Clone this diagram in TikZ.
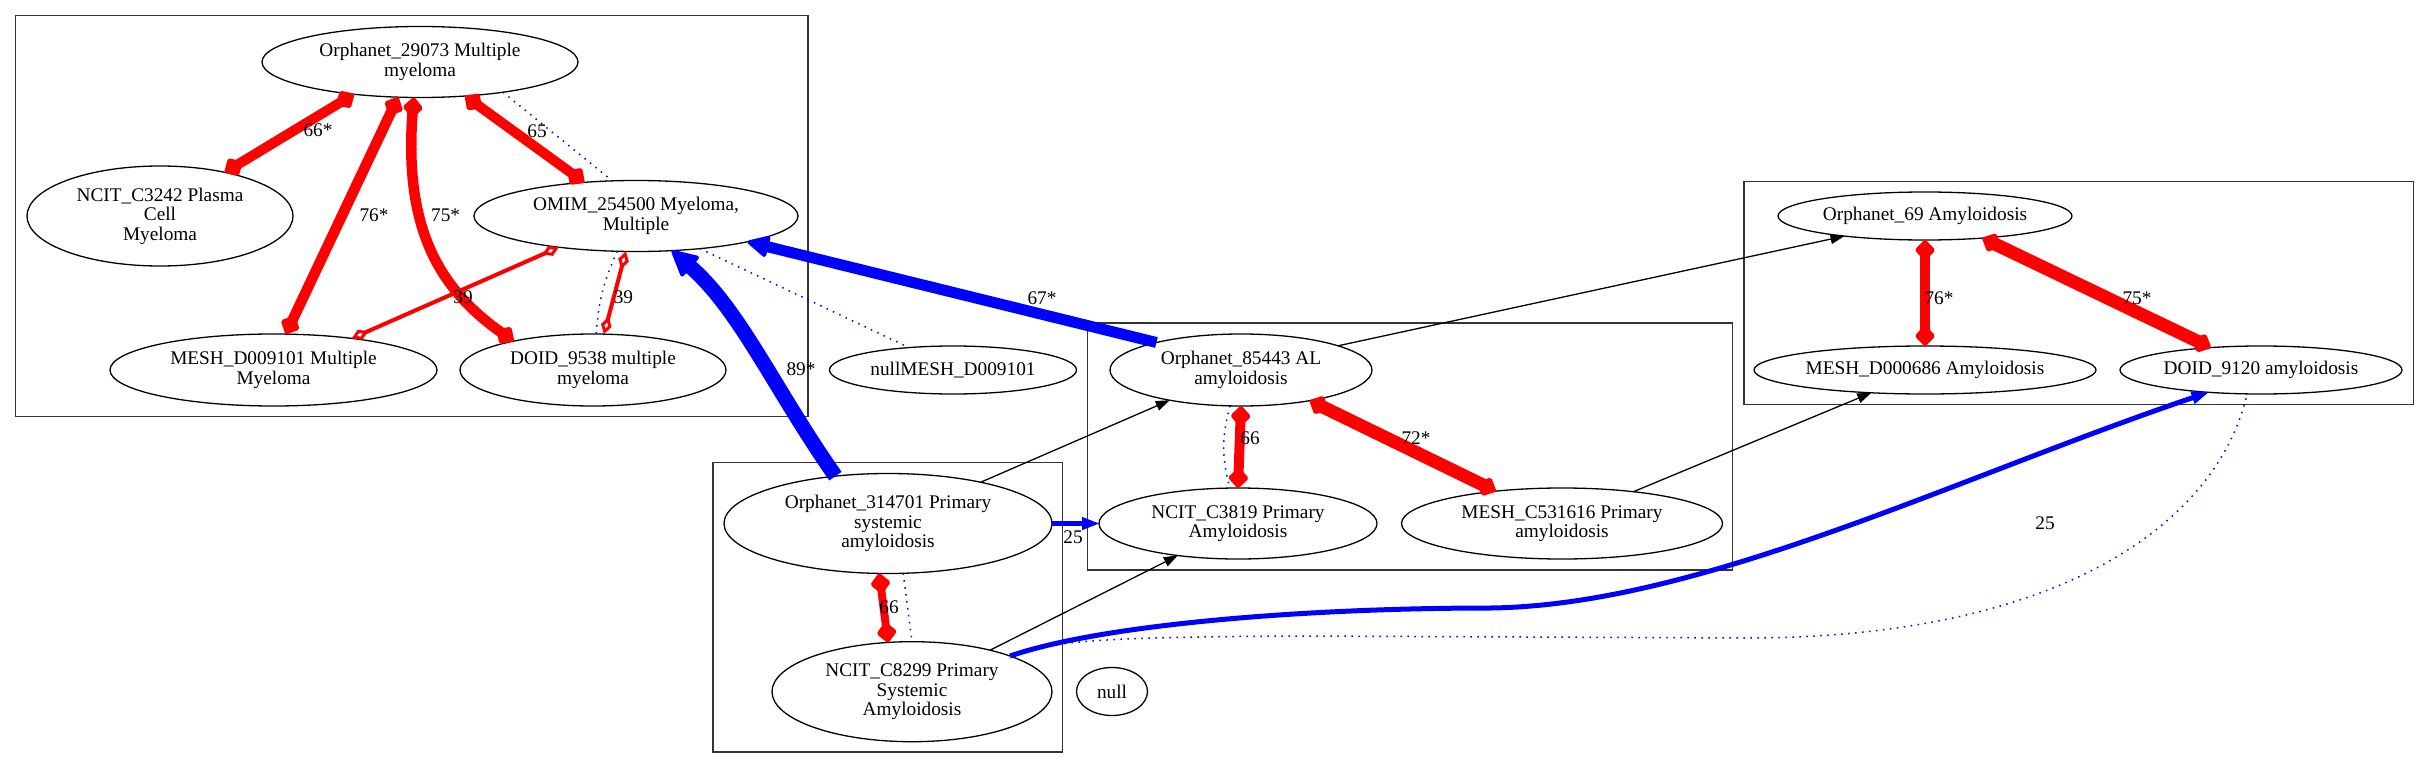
\documentclass[tikz,border=0pt]{standalone}
\usepackage{fontspec}
\setmainfont{Liberation Serif}
\usetikzlibrary{arrows.meta,shapes.geometric}
\begin{document}
\begin{tikzpicture}[x=1pt,y=-1pt,
  nd/.style={ellipse,draw=black,line width=1.3pt,inner sep=0pt,outer sep=0pt,align=center,font=\fontsize{19.3}{19.5}\selectfont},
  clus/.style={draw=black!80,line width=1.5pt},
  lbl/.style={font=\fontsize{19.3}{19.5}\selectfont,inner sep=0pt},
  rthick/.style={draw=red,line width=#1,arrows={Diamond[length=22pt,width=21pt,line width=4pt,round]-Diamond[length=22pt,width=21pt,line width=4pt,round]}},
  rthin/.style={draw=red,line width=4pt,arrows={Diamond[length=18pt,width=11pt,fill=white,line width=3pt]-Diamond[length=18pt,width=11pt,fill=white,line width=3pt]}},
  bdot/.style={draw=blue,line width=1.5pt,dash pattern=on 1.5pt off 5.5pt},
  b89/.style={draw=blue,line width=15pt,-{Triangle[length=28pt,width=28pt,line width=4pt,round]}},
  b67/.style={draw=blue,line width=11pt,-{Triangle[length=24pt,width=23pt,line width=4pt,round]}},
  b25/.style={draw=blue,line width=5pt,-{Triangle[length=17pt,width=13pt,line width=1pt]}},
  blk/.style={draw=black,line width=1.3pt,-{Triangle[length=14pt,width=10pt,line width=1pt]}}
]
\useasboundingbox (0,0) rectangle (2429,768);
\fill[white] (0,0) rectangle (2429,768);
% clusters
\draw[clus] (15.7,15.7) rectangle (808,416.7);
\draw[clus] (1087.7,323) rectangle (1732.6,570);
\draw[clus] (713,462.7) rectangle (1062.5,752);
\draw[clus] (1744,181.7) rectangle (2413.6,404.3);
% nodes
\node[nd,minimum width=316pt,minimum height=71pt] (o29073) at (420,62) {Orphanet\_29073 Multiple\\myeloma};
\node[nd,minimum width=266pt,minimum height=100pt] (ncit3242) at (160,216) {NCIT\_C3242 Plasma\\Cell\\Myeloma};
\node[nd,minimum width=324pt,minimum height=71pt] (omim) at (636,216) {OMIM\_254500 Myeloma,\\Multiple};
\node[nd,minimum width=327pt,minimum height=72pt] (mesh9101) at (273.5,370) {MESH\_D009101 Multiple\\Myeloma};
\node[nd,minimum width=266pt,minimum height=72pt] (doid9538) at (593,370) {DOID\_9538 multiple\\myeloma};
\node[nd,minimum width=247pt,minimum height=48pt] (nullmesh) at (953,370) {nullMESH\_D009101};
\node[nd,minimum width=262pt,minimum height=72pt] (o85443) at (1241,370) {Orphanet\_85443 AL\\amyloidosis};
\node[nd,minimum width=328pt,minimum height=100pt] (o314701) at (888,523.5) {Orphanet\_314701 Primary\\systemic\\amyloidosis};
\node[nd,minimum width=278pt,minimum height=71pt] (ncit3819) at (1238,523.5) {NCIT\_C3819 Primary\\Amyloidosis};
\node[nd,minimum width=321pt,minimum height=71pt] (meshc) at (1562,523.5) {MESH\_C531616 Primary\\amyloidosis};
\node[nd,minimum width=280pt,minimum height=100pt] (ncit8299) at (912,691.7) {NCIT\_C8299 Primary\\Systemic\\Amyloidosis};
\node[nd,minimum width=71pt,minimum height=48pt] (null) at (1112,691.5) {null};
\node[nd,minimum width=294pt,minimum height=48pt] (o69) at (1925,216) {Orphanet\_69 Amyloidosis};
\node[nd,minimum width=342pt,minimum height=48pt] (meshd686) at (1925,370) {MESH\_D000686 Amyloidosis};
\node[nd,minimum width=282pt,minimum height=48pt] (doid9120) at (2261,370) {DOID\_9120 amyloidosis};
% edges cluster A
\draw[rthick=10pt] (o29073.-154) -- (ncit3242.34);
\draw[rthick=10.5pt] (o29073.-122) -- (mesh9101.71);
\draw[rthick=10.5pt] (o29073.-100) .. controls (403,230) and (440,290) .. (doid9538.160);
\draw[rthick=10pt] (o29073.-37) -- (omim.147);
\draw[bdot] (o29073.-20) -- (omim.124);
\draw[rthin] (omim.-158) -- (mesh9101.22);
\draw[rthin] (omim.-106) -- (doid9538.73);
\draw[bdot] (omim.-118) to[bend right=10] (doid9538.85);
\draw[bdot] (omim.-27) -- (nullmesh.153);
% blue into OMIM
\draw[b89] (o314701.138) .. controls (775,390) and (740,310) .. (omim.-44);
\draw[b67] (o85443.162) -- (omim.-13);
% middle
\draw[blk] (o314701.24) -- (o85443.-157);
\draw[b25] (o314701.east) -- (ncit3819.west);
\draw[rthick=8pt] (o314701.-100) -- (ncit8299.116);
\draw[bdot] (o314701.-73) -- (ncit8299.90);
\draw[blk] (ncit8299.28) -- (ncit3819.-152);
\draw[bdot] (ncit8299.20) .. controls (1050,641) and (1100,637) .. (1300,636) -- (1746,638) .. controls (2050,638) and (2215,530) .. (doid9120.-120);
\draw[b25] (ncit8299.20) .. controls (1100,625) and (1300,608) .. (1491,608) .. controls (1700,605) and (1950,480) .. (doid9120.-157);
\draw[rthick=10pt] (o85443.south) -- (ncit3819.north);
\draw[bdot] (o85443.-107) to[bend right=15] (ncit3819.103);
\draw[rthick=13pt] (o85443.-24) -- (meshc.154);
\draw[blk] (o85443.14) -- (o69.-166);
\draw[blk] (meshc.24) -- (meshd686.-157);
% cluster D
\draw[rthick=10.5pt] (o69.south) -- (meshd686.north);
\draw[rthick=13pt] (o69.-21.5) -- (doid9120.156);
% labels
\node[lbl] (l1) at (318,130.7) {66*};
\node[lbl] (l2) at (374,215) {76*};
\node[lbl] (l3) at (445.6,215) {75*};
\node[lbl] (l4) at (537,131) {65};
\node[lbl] (l5) at (463,297.7) {39};
\node[lbl] (l6) at (623.4,297.7) {39};
\node[lbl] (l7) at (801,369) {89*};
\node[lbl] (l8) at (1042,298) {67*};
\node[lbl] (l9) at (1073,537) {25};
\node[lbl] (l10) at (889,606.7) {66};
\node[lbl] (l11) at (1250,438) {66};
\node[lbl] (l12) at (1416,438) {72*};
\node[lbl] (l13) at (2045,523) {25};
\node[lbl] (l14) at (1939,298) {76*};
\node[lbl] (l15) at (2137,298) {75*};
\end{tikzpicture}
\end{document}
